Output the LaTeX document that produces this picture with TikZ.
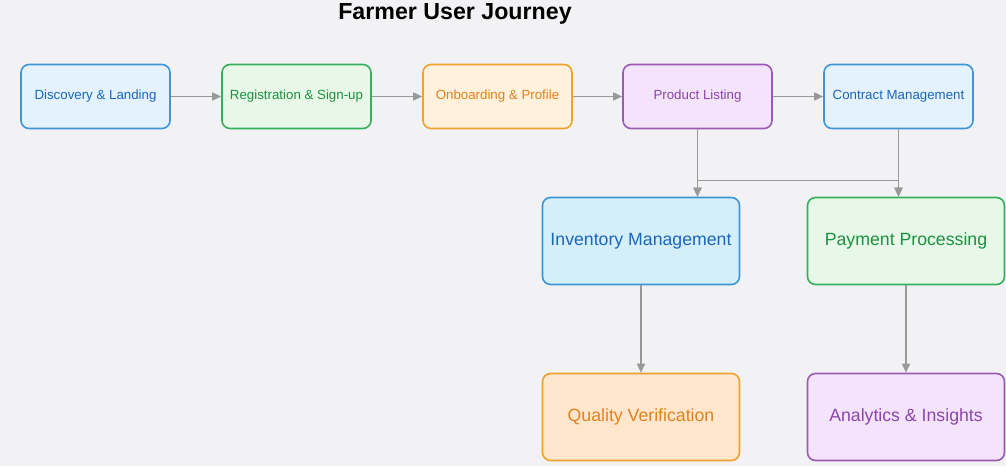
\documentclass[tikz,border=0pt]{standalone}
\usepackage{fontspec}
\setmainfont{Liberation Sans}
\usetikzlibrary{arrows.meta,positioning}

\definecolor{bgc}{HTML}{F2F2F4}
\definecolor{arrc}{HTML}{999999}
\definecolor{blueb}{HTML}{3C96D8}
\definecolor{bluef}{HTML}{E4F2FD}
\definecolor{bluet}{HTML}{1A66BC}
\definecolor{cyanf}{HTML}{D5EFFA}
\definecolor{greenb}{HTML}{35AE5E}
\definecolor{greenf}{HTML}{E7F8E8}
\definecolor{greent}{HTML}{1E9040}
\definecolor{orangeb}{HTML}{F0A12E}
\definecolor{orangef}{HTML}{FFF1DC}
\definecolor{orangeq}{HTML}{FFE6CD}
\definecolor{oranget}{HTML}{E2821E}
\definecolor{purpleb}{HTML}{9B5BB5}
\definecolor{purplef}{HTML}{F3E4FC}
\definecolor{purplet}{HTML}{8E44AD}

\tikzset{
  box/.style={draw, rounded corners=8pt, line width=1.6pt, align=center,
    minimum width=149pt, minimum height=64pt, inner sep=2pt},
  bigbox/.style={box, minimum width=197pt, minimum height=87pt, font=\fontsize{17.7}{20}\selectfont},
  smallbox/.style={box, font=\fontsize{13.3}{15}\selectfont},
  bluebox/.style={draw=blueb, fill=bluef, text=bluet},
  greenbox/.style={draw=greenb, fill=greenf, text=greent},
  orangebox/.style={draw=orangeb, fill=orangef, text=oranget},
  purplebox/.style={draw=purpleb, fill=purplef, text=purplet},
  arr/.style={draw=arrc, line width=1.6pt, -{Triangle[length=9pt,width=8pt]}},
}

\begin{document}
\begin{tikzpicture}[x=1pt,y=-1pt]
\useasboundingbox (0,0) rectangle (1006,466);
\fill[bgc] (0,0) rectangle (1006,466);

\node[font=\fontsize{23.2}{26}\selectfont\bfseries] (title) at (455,14) {Farmer User Journey};

% top row
\node[smallbox, bluebox]   (disc)  at (95.5,96.5)  {Discovery \& Landing};
\node[smallbox, greenbox]  (reg)   at (296.5,96.5) {Registration \& Sign-up};
\node[smallbox, orangebox] (onb)   at (497.5,96.5) {Onboarding \& Profile};
\node[smallbox, purplebox] (prod)  at (697.5,96.5) {Product Listing};
\node[smallbox, bluebox]   (contr) at (898.5,96.5) {Contract Management};

% lower rows
\node[bigbox, bluebox, fill=cyanf]     (inv)  at (641,241) {Inventory Management};
\node[bigbox, greenbox]                (pay)  at (906,241) {Payment Processing};
\node[bigbox, orangebox, fill=orangeq] (qual) at (641,417) {Quality Verification};
\node[bigbox, purplebox]               (anal) at (906,417) {Analytics \& Insights};

\draw[arr] (disc) -- (reg);
\draw[arr] (reg) -- (onb);
\draw[arr] (onb) -- (prod);
\draw[arr] (prod) -- (contr);

\draw[arr] (prod.south) -- (prod.south |- inv.north);
\draw[arr] (prod.south) -- ++(0,51) -| (contr.south |- pay.north);
\draw[arr] (contr.south) -- (contr.south |- pay.north);
\draw[arr] (contr.south) -- ++(0,51) -| (prod.south |- inv.north);

\draw[arr] (inv) -- (qual);
\draw[arr] (pay) -- (anal);
\end{tikzpicture}
\end{document}
